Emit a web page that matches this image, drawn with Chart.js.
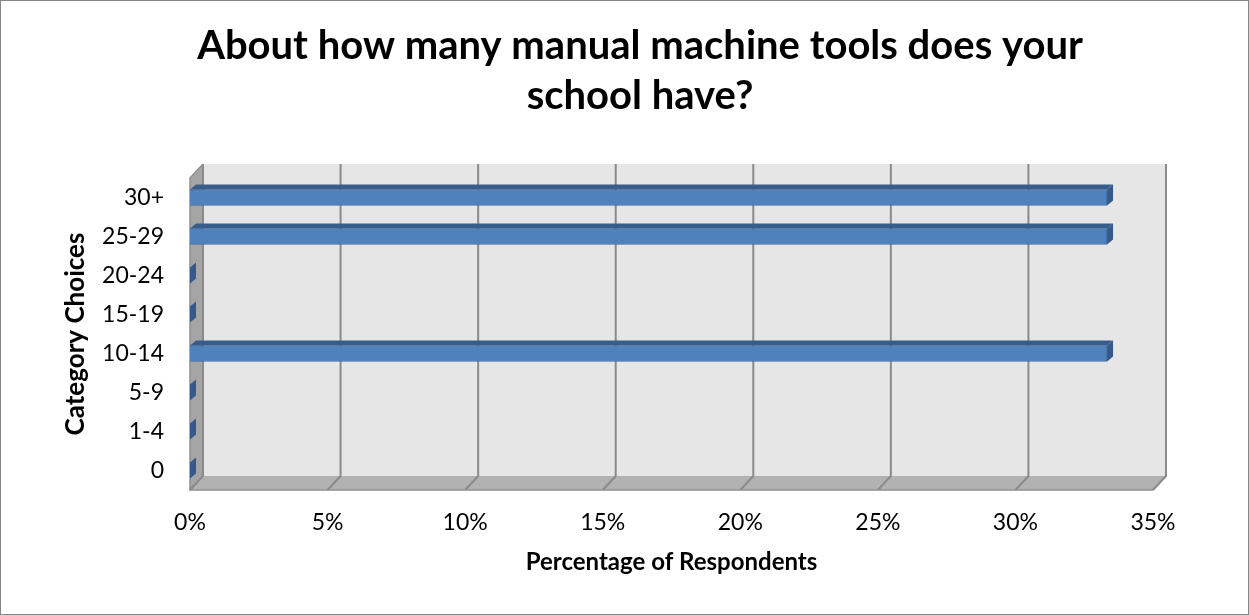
<!DOCTYPE html>
<html>
<head>
<meta charset="utf-8">
<script src="https://cdn.jsdelivr.net/npm/chart.js@4.4.1/dist/chart.umd.min.js"></script>
<style>
  body { margin: 0; background: #fff; }
</style>
</head>
<body>
<canvas id="chart" width="1249" height="615"></canvas>
<script>
const categories = ["0", "1-4", "5-9", "10-14", "15-19", "20-24", "25-29", "30+"];
const percentages = [0, 0, 0, 33.33, 0, 0, 33.33, 33.33];
const xTicks = [0, 5, 10, 15, 20, 25, 30, 35];

const FONT = "Lato, 'Open Sans', sans-serif";
const DX = 13, DY = 14; // depth of the 3d box

function polygon(ctx, pts) {
  ctx.beginPath();
  ctx.moveTo(pts[0][0], pts[0][1]);
  pts.slice(1).forEach(p => ctx.lineTo(p[0], p[1]));
  ctx.closePath();
  ctx.fill();
}

// walls, floor and gridlines of the 3d plot box
const box3d = {
  id: "box3d",
  beforeDraw(chart) {
    const { ctx, chartArea: a, scales: { x } } = chart;
    ctx.save();
    ctx.fillStyle = "#fff";
    ctx.fillRect(0, 0, chart.width, chart.height);

    ctx.fillStyle = "#e6e6e6";
    ctx.fillRect(a.left + DX, a.top - DY, a.right - a.left, a.bottom - a.top);

    ctx.fillStyle = "#a5a5a5";
    polygon(ctx, [[a.left, a.top], [a.left + DX, a.top - DY], [a.left + DX, a.bottom - DY], [a.left, a.bottom]]);

    ctx.fillStyle = "#b2b2b2";
    polygon(ctx, [[a.left, a.bottom], [a.left + DX, a.bottom - DY], [a.right + DX, a.bottom - DY], [a.right, a.bottom]]);

    ctx.strokeStyle = "#8a8a8a";
    ctx.lineWidth = 2;
    xTicks.forEach(v => {
      const px = x.getPixelForValue(v);
      ctx.beginPath();
      ctx.moveTo(px + DX, a.top - DY);
      ctx.lineTo(px + DX, a.bottom - DY);
      ctx.lineTo(px, a.bottom);
      ctx.stroke();
    });

    // edges of left wall and floor front
    ctx.strokeStyle = "#909090";
    ctx.lineWidth = 1.5;
    ctx.beginPath();
    ctx.moveTo(a.left + DX, a.top - DY);
    ctx.lineTo(a.left, a.top);
    ctx.lineTo(a.left, a.bottom);
    ctx.lineTo(a.right, a.bottom);
    ctx.stroke();
    ctx.restore();
  },
  afterDraw(chart) {
    const ctx = chart.ctx;
    ctx.save();
    ctx.strokeStyle = "#868686";
    ctx.lineWidth = 1;
    ctx.strokeRect(0.5, 0.5, chart.width - 1, chart.height - 1);
    ctx.restore();
  }
};

// top face and end cap of each bar
const bar3d = {
  id: "bar3d",
  afterDatasetsDraw(chart) {
    const ctx = chart.ctx;
    const d = 6, e = 5;
    ctx.save();
    chart.getDatasetMeta(0).data.forEach(bar => {
      const { x, y, base, height } = bar.getProps(["x", "y", "base", "height"], true);
      const top = y - height / 2, bot = y + height / 2;
      ctx.fillStyle = "#385d8a";
      polygon(ctx, [[base, top], [base + d, top - e], [x + d, top - e], [x, top]]);
      ctx.fillStyle = "#34598a";
      polygon(ctx, [[x, top], [x + d, top - e], [x + d, bot - e], [x, bot]]);
    });
    ctx.restore();
  }
};

new Chart(document.getElementById("chart"), {
  type: "bar",
  data: {
    labels: categories,
    datasets: [{
      data: percentages,
      yAxisID: "y",
      backgroundColor: "#4f81bd",
      borderColor: "#3f6a9e",
      borderWidth: 1,
      barThickness: 16,
    }],
  },
  plugins: [box3d, bar3d],
  options: {
    indexAxis: "y",
    responsive: false,
    animation: false,
    layout: { padding: { left: 31, right: 0, top: 0, bottom: 0 } },
    plugins: {
      legend: { display: false },
      tooltip: { enabled: false },
      title: {
        display: true,
        text: ["About how many manual machine tools does your", "school have?"],
        color: "#000",
        font: { family: FONT, size: 40, weight: "bold", lineHeight: 1.25 },
        padding: { top: 21, bottom: 57 },
      },
    },
    scales: {
      x: {
        min: 0,
        max: 35,
        afterFit: s => { s.height = 125; },
        grid: { display: false, drawTicks: false },
        border: { display: false },
        ticks: {
          stepSize: 5,
          padding: 19,
          color: "#000",
          font: { family: FONT, size: 23 },
          callback: v => v + "%",
        },
        title: {
          display: true,
          text: "Percentage of Respondents",
          color: "#000",
          font: { family: FONT, size: 24, weight: "bold" },
          padding: { bottom: 38 },
        },
      },
      y: {
        reverse: true,
        afterFit: s => { s.width = 159; },
        grid: { display: false, drawTicks: false },
        border: { display: false },
        ticks: {
          padding: 26,
          color: "#000",
          font: { family: FONT, size: 23 },
        },
        title: {
          display: true,
          text: "Category Choices",
          color: "#000",
          font: { family: FONT, size: 26, weight: "bold" },
          padding: { top: 29 },
        },
      },
      // empty right-hand axis, keeps the plot box off the right edge
      y2: {
        type: "linear",
        position: "right",
        afterFit: s => { s.width = 96; },
        grid: { display: false, drawTicks: false },
        border: { display: false },
        ticks: { display: false },
      },
    },
  },
});
</script>
</body>
</html>
